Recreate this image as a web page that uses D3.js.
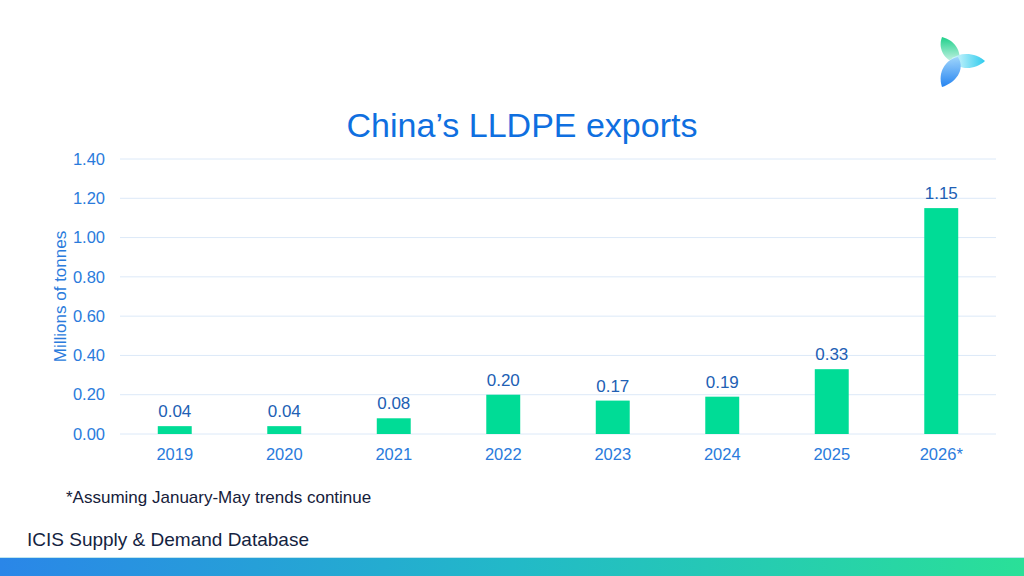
<!DOCTYPE html>
<html>
<head>
<meta charset="utf-8">
<script src="https://cdn.jsdelivr.net/npm/d3@7"></script>
<style>
  body { margin: 0; background: #fff; }
  svg { display: block; font-family: "Liberation Sans", Arial, sans-serif; }
</style>
</head>
<body>
<svg id="chart" width="1024" height="576"></svg>
<script>
  const years = ["2019", "2020", "2021", "2022", "2023", "2024", "2025", "2026*"];
  const exports = [0.04, 0.04, 0.08, 0.20, 0.17, 0.19, 0.33, 1.15];
  const yTicks = [0, 0.2, 0.4, 0.6, 0.8, 1.0, 1.2, 1.4];

  const svg = d3.select("#chart");
  const margin = { top: 159, right: 28, bottom: 142, left: 120 };
  const width = 1024 - margin.left - margin.right;
  const height = 576 - margin.top - margin.bottom;

  const g = svg.append("g").attr("transform", `translate(${margin.left},${margin.top})`);

  const x = d3.scaleBand().domain(years).range([0, width]).paddingInner(0.69).paddingOuter(0.345);
  const y = d3.scaleLinear().domain([0, 1.4]).range([height, 0]);

  // grid
  g.append("g")
    .selectAll("line")
    .data(yTicks)
    .join("line")
    .attr("x1", 0).attr("x2", width)
    .attr("y1", d => y(d)).attr("y2", d => y(d))
    .attr("stroke", "#dce9f8").attr("stroke-width", 1);

  // y axis
  const yAxis = g.append("g")
    .call(d3.axisLeft(y).tickValues(yTicks).tickFormat(d3.format(".2f")).tickSize(0).tickPadding(15));
  yAxis.select(".domain").remove();
  yAxis.selectAll("text").attr("fill", "#2a7bdc").attr("font-size", 16.5);

  // x axis
  const xAxis = g.append("g").attr("transform", `translate(0,${height})`)
    .call(d3.axisBottom(x).tickSize(0).tickPadding(14));
  xAxis.select(".domain").remove();
  xAxis.selectAll("text").attr("fill", "#2a7bdc").attr("font-size", 16.5);

  // bars
  g.selectAll(".bar")
    .data(exports)
    .join("rect")
    .attr("class", "bar")
    .attr("x", (d, i) => x(years[i]))
    .attr("y", d => y(d))
    .attr("width", x.bandwidth())
    .attr("height", d => height - y(d))
    .attr("fill", "#00dc96");

  // value labels
  g.selectAll(".lbl")
    .data(exports)
    .join("text")
    .attr("class", "lbl")
    .attr("x", (d, i) => x(years[i]) + x.bandwidth() / 2)
    .attr("y", d => y(d) - 9)
    .attr("text-anchor", "middle")
    .attr("font-size", 17)
    .attr("fill", "#2160b4")
    .text(d => d.toFixed(2));

  // axis title
  svg.append("text")
    .attr("transform", `translate(66,${margin.top + height / 2}) rotate(-90)`)
    .attr("text-anchor", "middle")
    .attr("font-size", 17)
    .attr("fill", "#2a7bdc")
    .text("Millions of tonnes");

  // title
  svg.append("text")
    .attr("x", 522).attr("y", 137)
    .attr("text-anchor", "middle")
    .attr("font-size", 34)
    .attr("fill", "#0f6fe0")
    .text("China\u2019s LLDPE exports");

  // footnote
  svg.append("text")
    .attr("x", 66).attr("y", 503)
    .attr("font-size", 17)
    .attr("fill", "#15203a")
    .text("*Assuming January-May trends continue");

  // source
  svg.append("text")
    .attr("x", 27).attr("y", 546)
    .attr("font-size", 19)
    .attr("font-family", "'Liberation Sans Narrow', 'Liberation Sans', sans-serif")
    .attr("fill", "#14233f")
    .text("ICIS Supply & Demand Database");

  // bottom gradient band
  const defs = svg.append("defs");
  const grad = defs.append("linearGradient").attr("id", "band");
  grad.append("stop").attr("offset", "0%").attr("stop-color", "#2a86e8");
  grad.append("stop").attr("offset", "50%").attr("stop-color", "#22b9c8");
  grad.append("stop").attr("offset", "100%").attr("stop-color", "#2ae098");
  svg.append("rect").attr("x", 0).attr("y", 557).attr("width", 1024).attr("height", 1).attr("fill", "#bfe6ef");
  svg.append("rect").attr("x", 0).attr("y", 558).attr("width", 1024).attr("height", 18).attr("fill", "url(#band)");

  // logo
  const logo = svg.append("g").attr("transform", "translate(960,62)");
  const gGreen = defs.append("linearGradient").attr("id", "lg1").attr("x1", 0).attr("y1", 0).attr("x2", 0).attr("y2", 1);
  gGreen.append("stop").attr("offset", "0%").attr("stop-color", "#1fd08a");
  gGreen.append("stop").attr("offset", "100%").attr("stop-color", "#d8f6ee");
  const gCyan = defs.append("linearGradient").attr("id", "lg2");
  gCyan.append("stop").attr("offset", "0%").attr("stop-color", "#e6fbff");
  gCyan.append("stop").attr("offset", "100%").attr("stop-color", "#22c8ec");
  const gBlue = defs.append("linearGradient").attr("id", "lg3").attr("x1", 0).attr("y1", 0).attr("x2", 0).attr("y2", 1);
  gBlue.append("stop").attr("offset", "0%").attr("stop-color", "#9cd3fb");
  gBlue.append("stop").attr("offset", "100%").attr("stop-color", "#1a7ef0");
  logo.append("path").attr("d", "M-18,-25 C-6,-22 2,-12 -1,2 C-14,0 -23,-12 -18,-25 Z").attr("fill", "url(#lg1)");
  logo.append("path").attr("d", "M-10,-2 C0,-11 16,-9 25,-1 C14,9 -2,8 -10,-2 Z").attr("fill", "url(#lg2)").attr("opacity", 0.95);
  logo.append("path").attr("d", "M-2,-5 C6,8 -5,21 -18,25 C-23,10 -14,-3 -2,-5 Z").attr("fill", "url(#lg3)").attr("opacity", 0.95);
</script>
</body>
</html>
